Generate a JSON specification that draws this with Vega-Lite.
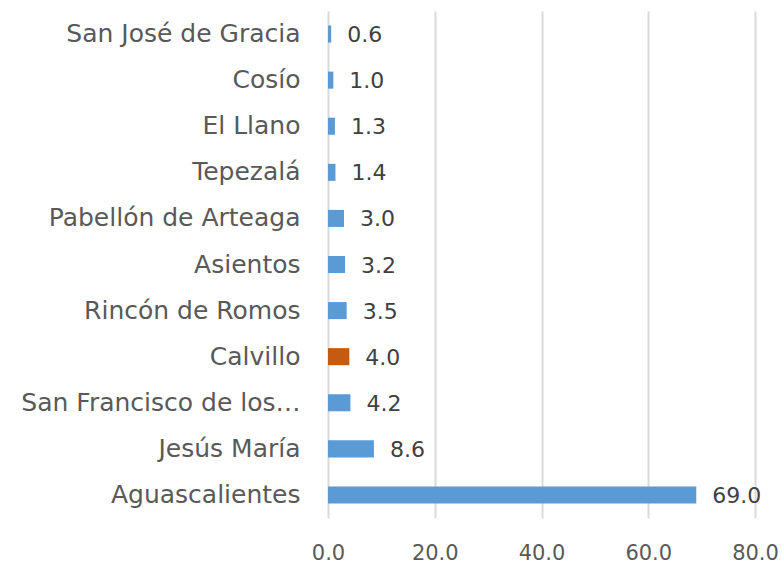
{
  "$schema": "https://vega.github.io/schema/vega-lite/v6.json",
  "autosize": {"type": "none"},
  "padding": {"left": 328, "top": 11, "right": 27, "bottom": 45},
  "width": 427,
  "height": 507,
  "background": "white",
  "data": {"values": [
    {"municipio": "San José de Gracia", "valor": 0.6, "grupo": "otro"},
    {"municipio": "Cosío", "valor": 1.0, "grupo": "otro"},
    {"municipio": "El Llano", "valor": 1.3, "grupo": "otro"},
    {"municipio": "Tepezalá", "valor": 1.4, "grupo": "otro"},
    {"municipio": "Pabellón de Arteaga", "valor": 3.0, "grupo": "otro"},
    {"municipio": "Asientos", "valor": 3.2, "grupo": "otro"},
    {"municipio": "Rincón de Romos", "valor": 3.5, "grupo": "otro"},
    {"municipio": "Calvillo", "valor": 4.0, "grupo": "destacado"},
    {"municipio": "San Francisco de los…", "valor": 4.2, "grupo": "otro"},
    {"municipio": "Jesús María", "valor": 8.6, "grupo": "otro"},
    {"municipio": "Aguascalientes", "valor": 69.0, "grupo": "otro"}
  ]},
  "encoding": {
    "y": {"field": "municipio", "type": "nominal", "sort": null,
      "scale": {"paddingInner": 0.63, "paddingOuter": 0.315},
      "axis": {"title": null, "domain": false, "ticks": false, "labelPadding": 28,
        "labelFont": "DejaVu Sans", "labelFontSize": 25, "labelColor": "#595959", "labelLimit": 400}},
    "x": {"field": "valor", "type": "quantitative",
      "scale": {"domain": [0, 80], "nice": false},
      "axis": {"title": null, "values": [0, 20, 40, 60, 80], "format": ".1f", "domain": false, "ticks": false,
        "grid": true, "gridColor": "#d9d9d9", "gridWidth": 2, "labelPadding": 24,
        "labelFont": "DejaVu Sans", "labelFontSize": 21, "labelColor": "#595959", "labelFlush": false}}
  },
  "layer": [
    {"mark": {"type": "bar"},
     "encoding": {"color": {"field": "grupo", "type": "nominal",
       "scale": {"domain": ["otro", "destacado"], "range": ["#5b9bd5", "#c55a11"]}, "legend": null}}},
    {"mark": {"type": "text", "align": "left", "baseline": "middle", "dx": 16, "dy": 1,
       "font": "DejaVu Sans", "fontSize": 22, "color": "#404040"},
     "encoding": {"text": {"field": "valor", "type": "quantitative", "format": ".1f"}}}
  ],
  "config": {"view": {"stroke": null}}
}
